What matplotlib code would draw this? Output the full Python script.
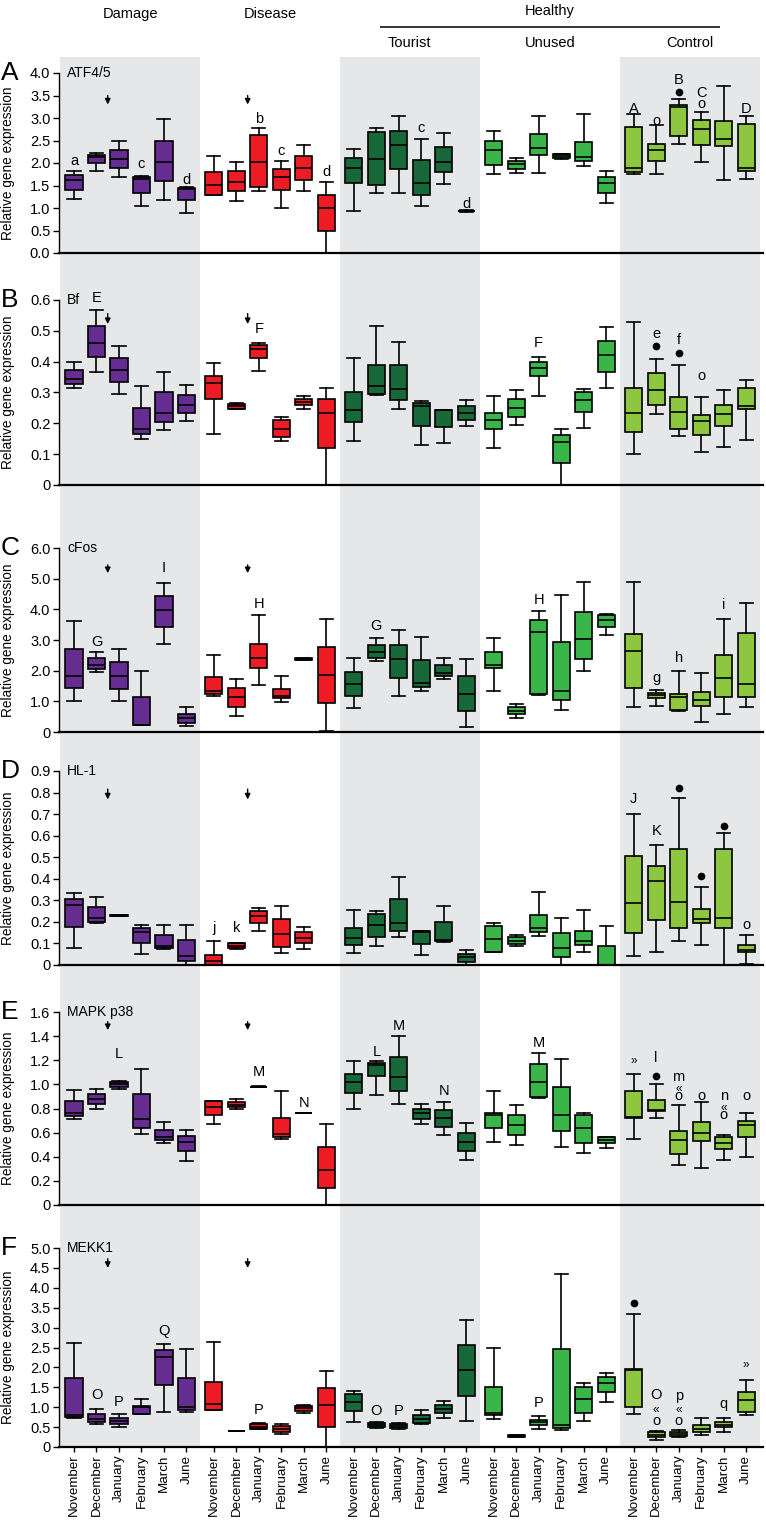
import matplotlib
matplotlib.use('Agg')
import matplotlib.pyplot as plt
import matplotlib.transforms as mtransforms

# ---------------- data ----------------
months = ['November', 'December', 'January', 'February', 'March', 'June']
groups = ['Damage', 'Disease', 'Tourist', 'Unused', 'Control']
group_colors = ['#652d90', '#ed1c24', '#17693a', '#3ab54a', '#8dc63f']
shaded_groups = [0, 2, 4]
genes = ['ATF4/5', 'Bf', 'cFos', 'HL-1', 'MAPK p38', 'MEKK1']
panel_letters = ['A', 'B', 'C', 'D', 'E', 'F']

A_ticks = [0.0, 0.5, 1.0, 1.5, 2.0, 2.5, 3.0, 3.5, 4.0]
A_ticklabels = ['0.0', '0.5', '1.0', '1.5', '2.0', '2.5', '3.0', '3.5', '4.0']
B_ticks = [0, 0.1, 0.2, 0.3, 0.4, 0.5, 0.6]
B_ticklabels = ['0', '0.1', '0.2', '0.3', '0.4', '0.5', '0.6']
C_ticks = [0, 1, 2, 3, 4, 5, 6]
C_ticklabels = ['0', '1.0', '2.0', '3.0', '4.0', '5.0', '6.0']
D_ticks = [0, 0.1, 0.2, 0.3, 0.4, 0.5, 0.6, 0.7, 0.8, 0.9]
D_ticklabels = ['0', '0.1', '0.2', '0.3', '0.4', '0.5', '0.6', '0.7', '0.8', '0.9']
E_ticks = [0, 0.2, 0.4, 0.6, 0.8, 1.0, 1.2, 1.4, 1.6]
E_ticklabels = ['0', '0.2', '0.4', '0.6', '0.8', '1.0', '1.2', '1.4', '1.6']
F_ticks = [0, 0.5, 1.0, 1.5, 2.0, 2.5, 3.0, 3.5, 4.0, 4.5, 5.0]
F_ticklabels = ['0', '0.5', '1.0', '1.5', '2.0', '2.5', '3.0', '3.5', '4.0', '4.5', '5.0']

# box statistics (30 boxes: Damage, Disease, Tourist, Unused, Control x 6 months)
A_lo  = [1.20, 1.83, 1.69, 1.04, 1.17, 0.88, 1.28, 1.15, 1.38, 1.01, 1.37, 0.00, 0.94, 1.34, 1.33, 1.04, 1.54, 0.92, 1.76, 1.78, 1.78, 2.09, 1.93, 1.11, 1.76, 1.75, 2.42, 2.03, 1.63, 1.65]
A_q1  = [1.40, 1.99, 1.88, 1.34, 1.60, 1.17, 1.30, 1.37, 1.47, 1.40, 1.62, 0.48, 1.55, 1.51, 1.87, 1.30, 1.79, 0.925, 1.95, 1.87, 2.18, 2.11, 2.04, 1.33, 1.80, 2.05, 2.60, 2.41, 2.37, 1.82]
A_med = [1.62, 2.14, 2.08, 1.65, 2.03, 1.43, 1.52, 1.58, 2.02, 1.68, 1.88, 1.00, 1.90, 2.10, 2.40, 1.55, 2.02, 0.93, 2.29, 1.97, 2.33, 2.16, 2.13, 1.55, 1.88, 2.30, 3.25, 2.75, 2.53, 1.90]
A_q3  = [1.73, 2.18, 2.28, 1.68, 2.50, 1.45, 1.80, 1.82, 2.62, 1.86, 2.15, 1.28, 2.12, 2.68, 2.72, 2.06, 2.35, 0.94, 2.50, 2.04, 2.64, 2.19, 2.46, 1.69, 2.80, 2.42, 3.28, 2.96, 2.93, 2.87]
A_hi  = [1.83, 2.22, 2.48, 1.71, 2.98, 1.46, 2.16, 2.03, 2.78, 2.05, 2.40, 1.58, 2.32, 2.77, 3.04, 2.53, 2.66, 0.95, 2.72, 2.12, 3.04, 2.20, 3.08, 1.82, 3.08, 2.85, 3.43, 3.14, 3.72, 3.04]

B_lo  = [.315, .365, .296, .150, .177, .208, .165, .245, .370, .143, .248, .000, .143, .293, .245, .130, .135, .190, .120, .194, .290, .000, .186, .316, .102, .230, .158, .107, .122, .147]
B_q1  = [.328, .415, .335, .165, .203, .232, .278, .248, .412, .155, .258, .120, .203, .296, .275, .190, .188, .210, .183, .222, .353, .072, .237, .368, .173, .258, .183, .162, .190, .245]
B_med = [.345, .462, .374, .180, .235, .260, .330, .255, .440, .183, .268, .235, .243, .322, .310, .255, .242, .233, .210, .250, .378, .140, .277, .423, .235, .308, .237, .208, .230, .255]
B_q3  = [.372, .515, .413, .250, .300, .292, .355, .262, .455, .210, .280, .278, .300, .390, .388, .265, .243, .255, .233, .280, .398, .163, .300, .468, .315, .362, .285, .228, .260, .315]
B_hi  = [.400, .567, .452, .320, .365, .323, .395, .265, .462, .220, .290, .315, .412, .517, .465, .272, .243, .275, .290, .308, .415, .182, .312, .513, .528, .410, .390, .287, .307, .340]

C_lo  = [1.00, 1.97, 1.00, 0.22, 2.87, 0.18, 1.16, 0.53, 1.53, 0.99, 2.34, 0.04, 0.78, 2.31, 1.17, 1.33, 1.72, 0.15, 1.33, 0.47, 1.22, 0.72, 2.00, 3.17, 0.82, 0.86, 0.67, 0.34, 0.60, 0.82]
C_q1  = [1.42, 2.07, 1.40, 0.22, 3.42, 0.30, 1.24, 0.81, 2.08, 1.12, 2.34, 0.95, 1.16, 2.40, 1.75, 1.46, 1.83, 0.70, 2.10, 0.58, 1.25, 1.05, 2.38, 3.42, 1.43, 1.10, 0.72, 0.84, 1.15, 1.14]
C_med = [1.83, 2.17, 1.83, 0.23, 3.99, 0.45, 1.33, 1.13, 2.42, 1.17, 2.38, 1.87, 1.55, 2.60, 2.38, 1.60, 1.93, 1.25, 2.18, 0.68, 3.26, 1.35, 3.04, 3.65, 2.63, 1.20, 1.13, 1.05, 1.75, 1.58]
C_q3  = [2.72, 2.42, 2.27, 1.13, 4.43, 0.60, 1.78, 1.44, 2.88, 1.40, 2.42, 2.78, 1.95, 2.83, 2.85, 2.36, 2.17, 1.82, 2.62, 0.80, 3.65, 2.92, 3.90, 3.80, 3.18, 1.28, 1.25, 1.30, 2.50, 3.22]
C_hi  = [3.62, 2.62, 2.70, 2.00, 4.85, 0.80, 2.52, 1.74, 3.80, 1.82, 2.42, 3.68, 2.40, 3.08, 3.33, 3.11, 2.42, 2.38, 3.07, 0.92, 3.95, 4.47, 4.90, 3.86, 4.88, 1.38, 1.98, 1.94, 3.70, 4.20]

D_lo  = [.081, .193, .228, .052, .075, .000, .000, .076, .158, .055, .074, .000, .055, .087, .130, .045, .108, .000, .058, .087, .135, .000, .060, .000, .040, .060, .110, .095, .000, .005]
D_q1  = [.178, .200, .229, .100, .077, .020, .000, .078, .197, .085, .100, .000, .095, .130, .160, .098, .110, .015, .062, .098, .155, .038, .093, .000, .148, .210, .173, .193, .172, .058]
D_med = [.280, .218, .230, .155, .090, .040, .020, .087, .228, .145, .127, .000, .127, .187, .195, .155, .118, .035, .120, .112, .172, .078, .110, .000, .287, .388, .293, .215, .220, .068]
D_q3  = [.308, .270, .231, .172, .140, .117, .048, .100, .250, .215, .153, .000, .170, .235, .305, .157, .198, .050, .183, .130, .230, .150, .158, .090, .505, .460, .540, .262, .540, .092]
D_hi  = [.334, .316, .232, .185, .187, .187, .110, .103, .265, .275, .178, .000, .255, .250, .410, .158, .275, .068, .197, .138, .340, .220, .255, .180, .700, .555, .775, .362, .612, .138]

E_lo  = [.715, .800, .960, .585, .510, .365, .675, .795, .975, .545, .760, .000, .800, .915, .840, .670, .580, .370, .525, .500, .885, .480, .430, .475, .545, .725, .330, .305, .375, .400]
E_q1  = [.740, .835, .975, .640, .540, .445, .745, .810, .978, .560, .760, .145, .930, 1.070, .945, .710, .650, .445, .640, .580, .895, .610, .510, .510, .720, .780, .420, .530, .465, .565]
E_med = [.760, .880, 1.000, .710, .565, .525, .810, .830, .980, .590, .760, .290, 1.020, 1.160, 1.065, .760, .720, .525, .750, .660, 1.020, .750, .640, .540, .730, .790, .535, .600, .510, .660]
E_q3  = [.860, .920, 1.020, .920, .625, .575, .860, .855, .982, .720, .760, .480, 1.090, 1.180, 1.230, .800, .785, .600, .765, .745, 1.165, .980, .750, .560, .945, .870, .610, .690, .560, .695]
E_hi  = [.955, .960, 1.030, 1.130, .690, .620, .865, .875, .985, .945, .760, .675, 1.190, 1.190, 1.400, .840, .855, .680, .945, .830, 1.260, 1.210, .760, .565, 1.090, 1.005, .830, .850, .580, .765]

F_lo  = [.72, .57, .50, .82, .87, .87, .93, .40, .46, .33, .86, .00, .64, .48, .45, .59, .72, .66, .70, .24, .45, .43, .66, 1.14, .83, .18, .25, .31, .38, .80]
F_q1  = [.76, .62, .58, .82, 1.56, .92, .93, .40, .46, .38, .90, .51, .90, .50, .48, .60, .86, 1.28, .80, .25, .55, .47, .86, 1.38, 1.00, .25, .28, .38, .50, .88]
F_med = [.80, .70, .65, 1.00, 2.27, 1.00, 1.08, .40, .50, .45, .97, 1.05, 1.13, .55, .52, .70, .96, 1.93, .86, .27, .62, .55, 1.20, 1.62, 1.93, .30, .33, .45, .56, 1.18]
F_q3  = [1.74, .84, .74, 1.02, 2.44, 1.74, 1.63, .41, .57, .52, 1.02, 1.48, 1.32, .60, .57, .80, 1.06, 2.56, 1.50, .30, .68, 2.45, 1.52, 1.76, 1.95, .37, .38, .55, .62, 1.38]
F_hi  = [2.62, .95, .82, 1.20, 2.60, 2.47, 2.65, .41, .60, .57, 1.05, 1.90, 1.40, .62, .61, .94, 1.15, 3.20, 2.48, .30, .78, 4.35, 1.60, 1.87, 3.33, .40, .43, .74, .74, 1.68]

# significance letters / symbols: (box index, value, text); 'dot' = filled dot
A_notes = [(0, 2.05, 'a'), (3, 1.97, 'c'), (5, 1.62, 'd'), (8, 2.98, 'b'), (9, 2.27, 'c'), (11, 1.80, 'd'),
           (15, 2.77, 'c'), (17, 1.10, 'd'), (24, 3.21, 'A'), (25, 2.94, 'o'), (26, 3.57, 'dot'),
           (26, 3.85, 'B'), (27, 3.30, 'o'), (27, 3.55, 'C'), (29, 3.21, 'D')]
B_notes = [(1, 0.605, 'E'), (8, 0.505, 'F'), (20, 0.462, 'F'), (25, 0.450, 'dot'), (25, 0.49, 'e'),
           (26, 0.428, 'dot'), (26, 0.47, 'f'), (27, 0.352, 'o')]
C_notes = [(1, 2.92, 'G'), (4, 5.35, 'I'), (8, 4.17, 'H'), (13, 3.45, 'G'), (20, 4.32, 'H'),
           (25, 1.75, 'g'), (26, 2.40, 'h'), (28, 4.15, 'i')]
D_notes = [(6, 0.172, 'j'), (7, 0.172, 'k'), (24, 0.77, 'J'), (25, 0.62, 'K'), (26, 0.82, 'dot'),
           (27, 0.415, 'dot'), (28, 0.643, 'dot'), (29, 0.184, 'o')]
E_notes = [(2, 1.25, 'L'), (8, 1.10, 'M'), (10, 0.845, 'N'), (13, 1.27, 'L'), (14, 1.48, 'M'),
           (16, 0.945, 'N'), (20, 1.34, 'M'), (24, 1.19, '\u00bb'), (25, 1.07, 'dot'), (25, 1.22, 'l'),
           (26, 0.905, 'o'), (26, 0.965, '\u00ab'), (26, 1.06, 'm'), (27, 0.90, 'o'),
           (28, 0.745, 'o'), (28, 0.805, '\u00ab'), (28, 0.90, 'n'), (29, 0.90, 'o')]
F_notes = [(1, 1.30, 'O'), (2, 1.13, 'P'), (4, 2.91, 'Q'), (8, 0.93, 'P'), (13, 0.90, 'O'), (14, 0.90, 'P'),
           (20, 1.11, 'P'), (24, 3.61, 'dot'), (25, 0.66, 'o'), (25, 0.93, '\u00ab'), (25, 1.30, 'O'),
           (26, 0.66, 'o'), (26, 0.93, '\u00ab'), (26, 1.28, 'p'), (28, 1.07, 'q'), (29, 2.06, '\u00bb')]

# arrows marking the event (between December and January), tail/tip values per panel
arrow_groups = [0, 1]
arrow_tail = [3.50, 0.556, 5.45, 0.816, 1.52, 4.73]
arrow_tip = [3.30, 0.522, 5.18, 0.768, 1.45, 4.50]

panels = [
    (A_lo, A_q1, A_med, A_q3, A_hi, A_ticks, A_ticklabels, A_notes),
    (B_lo, B_q1, B_med, B_q3, B_hi, B_ticks, B_ticklabels, B_notes),
    (C_lo, C_q1, C_med, C_q3, C_hi, C_ticks, C_ticklabels, C_notes),
    (D_lo, D_q1, D_med, D_q3, D_hi, D_ticks, D_ticklabels, D_notes),
    (E_lo, E_q1, E_med, E_q3, E_hi, E_ticks, E_ticklabels, E_notes),
    (F_lo, F_q1, F_med, F_q3, F_hi, F_ticks, F_ticklabels, F_notes),
]

# ---------------- layout ----------------
W, H = 766, 1521
fig = plt.figure(figsize=(W / 100, H / 100), dpi=100)
plt.rcParams['font.family'] = ['Liberation Sans', 'DejaVu Sans']
note_font = ['Liberation Sans Narrow', 'Liberation Sans', 'DejaVu Sans']

x_left_px, x_right_px = 58.7, 763
panel_px = [(73, 253), (300, 485), (548, 732), (771, 965), (1012, 1205), (1248, 1447)]
shade_top_px = 57
GROUP_W = 6.22     # width of one group band (in box-slot units)
EDGE = 0.62        # offset of first box centre from the band edge
XLIM = (-0.06, 31.25)

positions = [(i // 6) * GROUP_W + EDGE + (i % 6) for i in range(30)]
box_colors = [group_colors[i // 6] for i in range(30)]
month_labels = [months[i % 6] for i in range(30)]


def fx(px):
    return px / W


def fy(py):
    return 1 - py / H


# background axes for the grey bands (spanning all panels)
bg = fig.add_axes([fx(x_left_px), fy(panel_px[-1][1]), fx(x_right_px - x_left_px),
                   (panel_px[-1][1] - shade_top_px) / H], zorder=0)
bg.set_xlim(*XLIM)
bg.set_ylim(0, 1)
bg.axis('off')
for g in shaded_groups:
    bg.axvspan(g * GROUP_W, min((g + 1) * GROUP_W, XLIM[1]), color='#e6e7e8', lw=0)

# header labels
ht = mtransforms.blended_transform_factory(bg.transData, fig.transFigure)
gc = [(g + 0.5) * GROUP_W for g in range(5)]
fig.text(gc[0], fy(14), groups[0], transform=ht, ha='center', va='center', fontsize=10.5)
fig.text(gc[1], fy(14), groups[1], transform=ht, ha='center', va='center', fontsize=10.5)
fig.text(gc[3], fy(11), 'Healthy', transform=ht, ha='center', va='center', fontsize=10.5)
fig.add_artist(plt.Line2D([14.27, 29.3], [fy(27), fy(27)], transform=ht, color='#333333', lw=1.4))
fig.text(gc[2], fy(43), groups[2], transform=ht, ha='center', va='center', fontsize=10.5)
fig.text(gc[3], fy(43), groups[3], transform=ht, ha='center', va='center', fontsize=10.5)
fig.text(gc[4], fy(43), groups[4], transform=ht, ha='center', va='center', fontsize=10.5)

for p, (lo, q1, med, q3, hi, ticks, ticklabels, notes) in enumerate(panels):
    top, bot = panel_px[p]
    ax = fig.add_axes([fx(x_left_px), fy(bot), fx(x_right_px - x_left_px), (bot - top) / H], zorder=1)
    ax.set_facecolor('none')
    stats = [dict(whislo=lo[i], q1=q1[i], med=med[i], q3=q3[i], whishi=hi[i], fliers=[])
             for i in range(30)]
    bp = ax.bxp(stats, positions=positions, widths=0.76, capwidths=0.58, patch_artist=True,
                showfliers=False,
                boxprops=dict(edgecolor='black', linewidth=1.2),
                medianprops=dict(color='black', linewidth=1.2),
                whiskerprops=dict(color='black', linewidth=1.2),
                capprops=dict(color='black', linewidth=1.2))
    for patch, c in zip(bp['boxes'], box_colors):
        patch.set_facecolor(c)
    for art in bp['boxes'] + bp['medians'] + bp['whiskers'] + bp['caps']:
        art.set_clip_on(False)

    ax.set_xlim(*XLIM)
    ax.set_ylim(ticks[0], ticks[-1])
    ax.set_yticks(ticks)
    ax.set_yticklabels(ticklabels)
    for s in ['top', 'right']:
        ax.spines[s].set_visible(False)
    ax.spines['left'].set_linewidth(1.0)
    ax.spines['bottom'].set_linewidth(1.6)
    ax.tick_params(axis='y', direction='out', length=4, width=1, labelsize=10.5, pad=2)
    if p < 5:
        ax.set_xticks([])
    else:
        ax.set_xticks(positions)
        ax.set_xticklabels(month_labels, rotation=90, fontsize=9.6)
        ax.tick_params(axis='x', direction='out', length=3.5, width=1, pad=2)
    ax.set_ylabel('Relative gene expression', fontsize=9.8)
    ax.yaxis.set_label_coords(-0.062, 0.5)

    ax.text(-0.082, 1.0, panel_letters[p], transform=ax.transAxes, ha='left', va='center', fontsize=19)
    ax.text(0.012, 1.0, genes[p], transform=ax.transAxes, ha='left', va='center', fontsize=10,
            family=note_font)

    for (i, v, t) in notes:
        if t == 'dot':
            ax.plot(positions[i], v, 'o', color='black', ms=4.5, clip_on=False)
        else:
            fs = 8.5 if t in ('\u00ab', '\u00bb') else 10.5
            ax.text(positions[i], v, t, ha='center', va='center', fontsize=fs, family=note_font,
                    clip_on=False)

    for g in arrow_groups:
        xa = g * GROUP_W + EDGE + 1.5
        ax.annotate('', xy=(xa, arrow_tip[p]), xytext=(xa, arrow_tail[p]),
                    arrowprops=dict(arrowstyle='-|>', color='black', lw=1.0, mutation_scale=8,
                                    shrinkA=0, shrinkB=0))

fig.savefig('out.png', dpi=100)
